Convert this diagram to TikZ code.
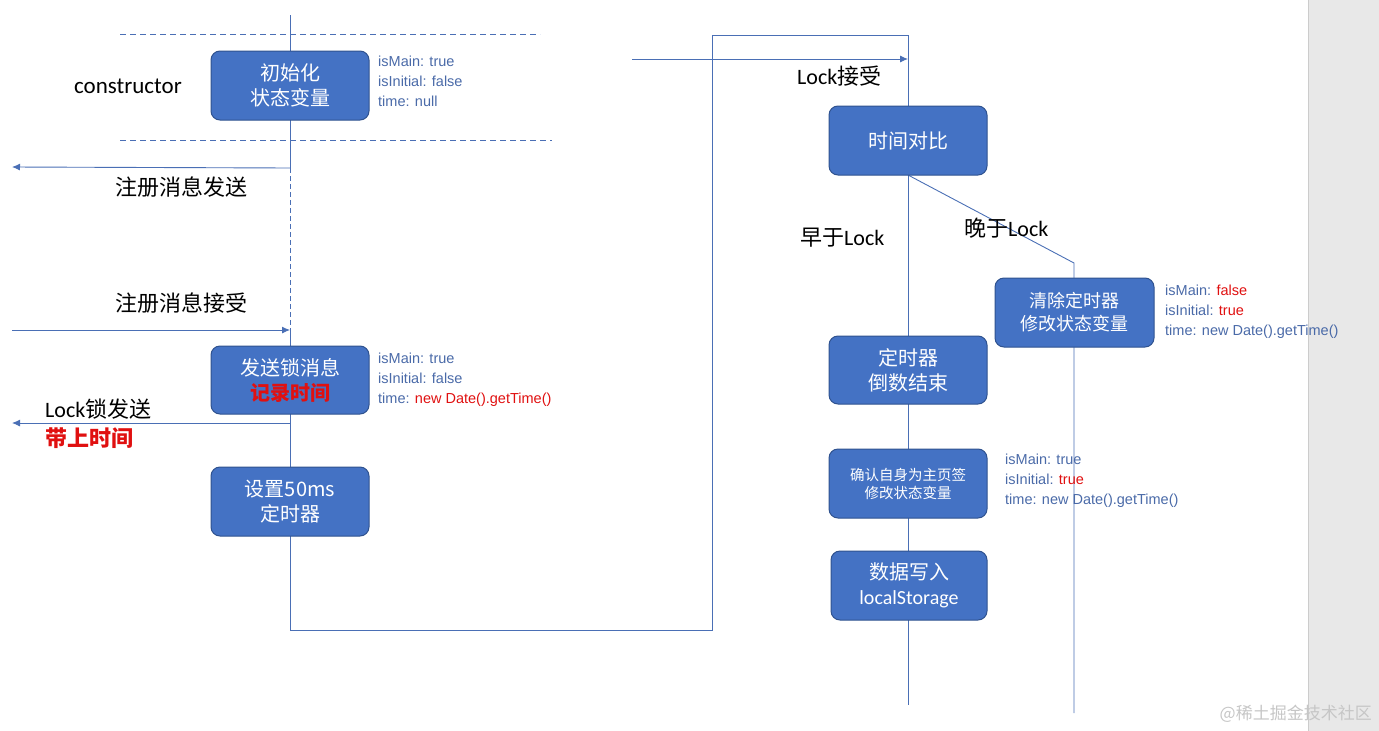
\documentclass[tikz,border=0pt]{standalone}
\usepackage{fontspec}
\setmainfont{Noto Sans CJK SC}
\newfontfamily\lat{Carlito}
\newfontfamily\infofont{Liberation Sans}
\usetikzlibrary{arrows.meta}
\definecolor{bx}{HTML}{4472C4}
\definecolor{bd}{HTML}{2F528F}
\definecolor{ln}{HTML}{4A6FB5}
\definecolor{it}{HTML}{4A6AA8}
\definecolor{rd}{HTML}{E01010}
\tikzset{
 box/.style={draw=bd,fill=bx,rounded corners=9pt,line width=1pt,text=white,align=center,font=\fontsize{20}{25}\selectfont,inner sep=0pt},
 wire/.style={draw=ln,line width=0.9pt},
 arr/.style={wire,-{Latex[length=8pt,width=7pt]}},
 info/.style={anchor=north west,align=left,text=it,font=\infofont\fontsize{14.5}{20}\selectfont,inner sep=0pt},
 lbl/.style={font=\fontsize{22}{26}\selectfont,inner sep=0pt},
 dsh/.style={draw=ln,dashed,line width=0.8pt,dash pattern=on 6pt off 4pt}
}
\begin{document}
\begin{tikzpicture}[x=1pt,y=-1pt]
\useasboundingbox (0,0) rectangle (1379,731);
\fill[gray!18] (1308,0) rectangle (1379,731);
\draw[gray!40] (1308,0) -- (1308,731);
% dashed separators
\draw[dsh] (120,34) -- (540,34);
\draw[dsh] (120,140) -- (552,140);
% lifeline 1 and loop to lifeline 2
\coordinate (t1) at (290,15);
\coordinate (d1) at (290,168);
\coordinate (d2) at (290,330);
\coordinate (c1) at (290,630);
\coordinate (c2) at (712,630);
\coordinate (c3) at (712,35);
\coordinate (c4) at (908,35);
\coordinate (e2) at (908,705);
\draw[wire] (t1) -- (d1);
\draw[wire,dashed,dash pattern=on 5pt off 3pt] (d1) -- (d2);
\draw[wire] (d2) -- (c1) -- (c2) -- (c3) -- (c4) -- (e2);
% right branch
\coordinate (b1) at (1074,263);
\coordinate (b2) at (1074,713);
\draw[wire] (908,175) -- (b1) -- (b2);
% arrows
\coordinate (l1) at (12,167);
\coordinate (l2) at (12,330);
\coordinate (l3) at (12,423);
\coordinate (s0) at (632,59);
\coordinate (s1) at (908,59);
\draw[arr] (d1) -- (l1);
\draw[arr] (l2) -- (d2);
\draw[arr] (290,423) -- (l3);
\draw[arr] (s0) -- (s1);
% boxes
\node[box,minimum width=158pt,minimum height=69pt] (init) at (290,85.5) {初始化\\状态变量};
\node[box,minimum width=158pt,minimum height=68pt] (send) at (290,380) {发送锁消息\\\textcolor{rd}{\bfseries 记录时间}};
\node[box,minimum width=158pt,minimum height=69pt] (tim) at (290,501.5) {设置50ms\\定时器};
\node[box,minimum width=158pt,minimum height=69pt] (cmp) at (908,140.5) {时间对比};
\node[box,minimum width=158pt,minimum height=68pt] (end) at (908,370) {定时器\\倒数结束};
\node[box,minimum width=158pt,minimum height=69pt,font=\fontsize{14.5}{18}\selectfont] (cf) at (908,483.5) {确认自身为主页签\\修改状态变量};
\node[box,minimum width=156pt,minimum height=69pt] (wr) at (909,585.5) {数据写入\\{\lat localStorage}};
\node[box,minimum width=159pt,minimum height=69pt,font=\fontsize{18}{23}\selectfont] (clr) at (1074.5,312.5) {清除定时器\\修改状态变量};
% labels
\node[lbl,anchor=west,font=\lat\fontsize{23}{26}\selectfont] (k1) at (74,86) {constructor};
\node[lbl,anchor=west] (k2) at (115,187) {注册消息发送};
\node[lbl,anchor=west] (k3) at (115,303) {注册消息接受};
\node[lbl,anchor=west] (k4) at (45,409) {{\lat Lock}锁发送};
\node[lbl,anchor=west,text=rd,font=\bfseries\fontsize{22}{26}\selectfont] (k5) at (45,438) {带上时间};
\node[lbl,anchor=west] (k6) at (797,76) {{\lat Lock}接受};
\node[lbl,anchor=west] (k7) at (800,238) {早于{\lat Lock}};
\node[lbl,anchor=west] (k8) at (964,228) {晚于{\lat Lock}};
% info
\node[info] (i1) at (378,56) {isMain: true\\isInitial: false\\time: null};
\node[info] (i2) at (378,353) {isMain: true\\isInitial: false\\time: \textcolor{rd}{new Date().getTime()}};
\node[info] (i3) at (1165,285) {isMain: \textcolor{rd}{false}\\isInitial: \textcolor{rd}{true}\\time: new Date().getTime()};
\node[info] (i4) at (1005,454) {isMain: true\\isInitial: \textcolor{rd}{true}\\time: new Date().getTime()};
\node[anchor=east,text=gray!45,font=\fontsize{17}{20}\selectfont,inner sep=0pt] (wm) at (1372,714) {@稀土掘金技术社区};
\end{tikzpicture}
\end{document}
